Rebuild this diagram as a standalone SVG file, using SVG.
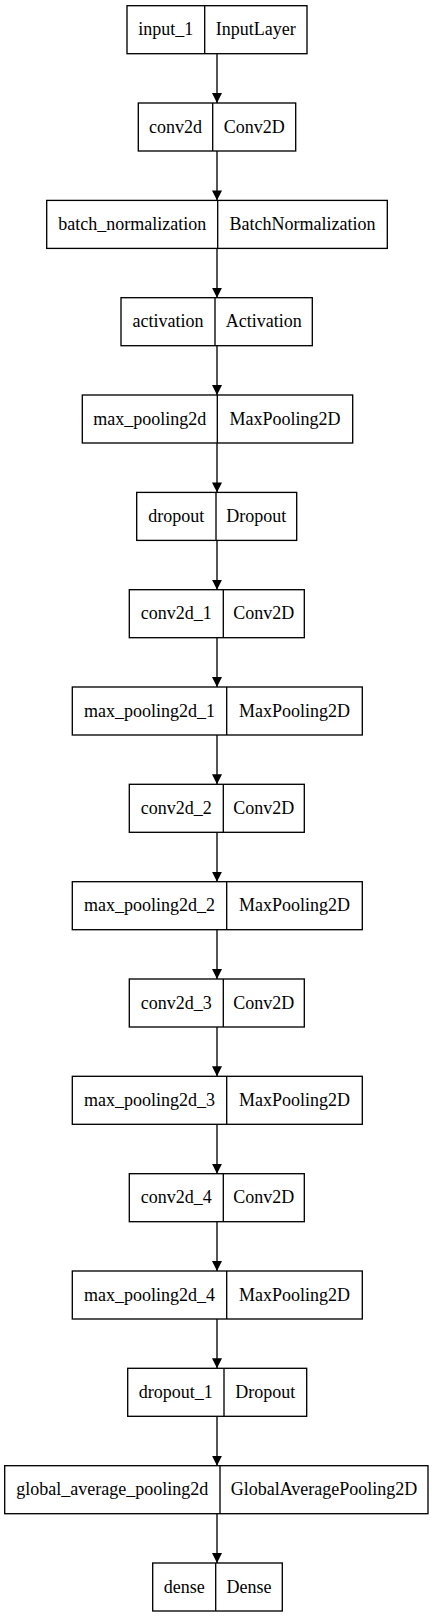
<svg xmlns="http://www.w3.org/2000/svg" width="435" height="1617" viewBox="0 0 435 1617">
<style>
.box{fill:#fff;stroke:#000;stroke-width:1.33}
.div{stroke:#000;stroke-width:1.33}
text{font-family:"Liberation Serif","Times New Roman",serif;font-size:18px;text-anchor:middle;fill:#000}
.edge{stroke:#000;stroke-width:1.33;fill:none}
</style>
<defs>
<marker id="ah" viewBox="0 0 10 10" refX="10" refY="5" markerWidth="10" markerHeight="10" markerUnits="userSpaceOnUse" orient="auto">
<path d="M0,0 L10,5 L0,10 z" fill="#000"/>
</marker>
</defs>
<rect width="435" height="1617" fill="#fff"/>
<g id="edges">
<line class="edge" x1="217" y1="53.7" x2="217" y2="103" marker-end="url(#ah)"/>
<line class="edge" x1="217" y1="151" x2="217" y2="200.4" marker-end="url(#ah)"/>
<line class="edge" x1="217" y1="248.4" x2="217" y2="297.7" marker-end="url(#ah)"/>
<line class="edge" x1="217" y1="345.7" x2="217" y2="395" marker-end="url(#ah)"/>
<line class="edge" x1="217" y1="443" x2="217" y2="492.4" marker-end="url(#ah)"/>
<line class="edge" x1="217" y1="540.4" x2="217" y2="589.7" marker-end="url(#ah)"/>
<line class="edge" x1="217" y1="637.7" x2="217" y2="687" marker-end="url(#ah)"/>
<line class="edge" x1="217" y1="735" x2="217" y2="784.3" marker-end="url(#ah)"/>
<line class="edge" x1="217" y1="832.3" x2="217" y2="881.7" marker-end="url(#ah)"/>
<line class="edge" x1="217" y1="929.7" x2="217" y2="979" marker-end="url(#ah)"/>
<line class="edge" x1="217" y1="1027" x2="217" y2="1076.3" marker-end="url(#ah)"/>
<line class="edge" x1="217" y1="1124.3" x2="217" y2="1173.7" marker-end="url(#ah)"/>
<line class="edge" x1="217" y1="1221.7" x2="217" y2="1271" marker-end="url(#ah)"/>
<line class="edge" x1="217" y1="1319" x2="217" y2="1368.3" marker-end="url(#ah)"/>
<line class="edge" x1="217" y1="1416.3" x2="217" y2="1465.7" marker-end="url(#ah)"/>
<line class="edge" x1="217" y1="1513.7" x2="217" y2="1563" marker-end="url(#ah)"/>
</g>
<g id="input_1">
<rect class="box" x="127" y="5.7" width="180" height="48"/>
<line class="div" x1="204.7" y1="5.7" x2="204.7" y2="53.7"/>
<text x="165.8" y="35.2">input_1</text>
<text x="255.8" y="35.2">InputLayer</text>
</g>
<g id="conv2d">
<rect class="box" x="138.3" y="103" width="157.4" height="48"/>
<line class="div" x1="212.7" y1="103" x2="212.7" y2="151"/>
<text x="175.5" y="132.5">conv2d</text>
<text x="254.2" y="132.5">Conv2D</text>
</g>
<g id="batch_normalization">
<rect class="box" x="46.7" y="200.4" width="340.6" height="48"/>
<line class="div" x1="217.7" y1="200.4" x2="217.7" y2="248.4"/>
<text x="132.2" y="229.9">batch_normalization</text>
<text x="302.5" y="229.9">BatchNormalization</text>
</g>
<g id="activation">
<rect class="box" x="121" y="297.7" width="191.3" height="48"/>
<line class="div" x1="215" y1="297.7" x2="215" y2="345.7"/>
<text x="168" y="327.2">activation</text>
<text x="263.7" y="327.2">Activation</text>
</g>
<g id="max_pooling2d">
<rect class="box" x="82.3" y="395" width="270.4" height="48"/>
<line class="div" x1="217.3" y1="395" x2="217.3" y2="443"/>
<text x="149.8" y="424.5">max_pooling2d</text>
<text x="285" y="424.5">MaxPooling2D</text>
</g>
<g id="dropout">
<rect class="box" x="136.7" y="492.4" width="160" height="48"/>
<line class="div" x1="216" y1="492.4" x2="216" y2="540.4"/>
<text x="176.3" y="521.9">dropout</text>
<text x="256.3" y="521.9">Dropout</text>
</g>
<g id="conv2d_1">
<rect class="box" x="129.3" y="589.7" width="175" height="48"/>
<line class="div" x1="223.3" y1="589.7" x2="223.3" y2="637.7"/>
<text x="176.3" y="619.2">conv2d_1</text>
<text x="263.8" y="619.2">Conv2D</text>
</g>
<g id="max_pooling2d_1">
<rect class="box" x="72.3" y="687" width="290" height="48"/>
<line class="div" x1="226.7" y1="687" x2="226.7" y2="735"/>
<text x="149.5" y="716.5">max_pooling2d_1</text>
<text x="294.5" y="716.5">MaxPooling2D</text>
</g>
<g id="conv2d_2">
<rect class="box" x="129.3" y="784.3" width="175" height="48"/>
<line class="div" x1="223.3" y1="784.3" x2="223.3" y2="832.3"/>
<text x="176.3" y="813.8">conv2d_2</text>
<text x="263.8" y="813.8">Conv2D</text>
</g>
<g id="max_pooling2d_2">
<rect class="box" x="72.3" y="881.7" width="290" height="48"/>
<line class="div" x1="226.7" y1="881.7" x2="226.7" y2="929.7"/>
<text x="149.5" y="911.2">max_pooling2d_2</text>
<text x="294.5" y="911.2">MaxPooling2D</text>
</g>
<g id="conv2d_3">
<rect class="box" x="129.3" y="979" width="175" height="48"/>
<line class="div" x1="223.3" y1="979" x2="223.3" y2="1027"/>
<text x="176.3" y="1008.5">conv2d_3</text>
<text x="263.8" y="1008.5">Conv2D</text>
</g>
<g id="max_pooling2d_3">
<rect class="box" x="72.3" y="1076.3" width="290" height="48"/>
<line class="div" x1="226.7" y1="1076.3" x2="226.7" y2="1124.3"/>
<text x="149.5" y="1105.8">max_pooling2d_3</text>
<text x="294.5" y="1105.8">MaxPooling2D</text>
</g>
<g id="conv2d_4">
<rect class="box" x="129.3" y="1173.7" width="175" height="48"/>
<line class="div" x1="223.3" y1="1173.7" x2="223.3" y2="1221.7"/>
<text x="176.3" y="1203.2">conv2d_4</text>
<text x="263.8" y="1203.2">Conv2D</text>
</g>
<g id="max_pooling2d_4">
<rect class="box" x="72.3" y="1271" width="290" height="48"/>
<line class="div" x1="226.7" y1="1271" x2="226.7" y2="1319"/>
<text x="149.5" y="1300.5">max_pooling2d_4</text>
<text x="294.5" y="1300.5">MaxPooling2D</text>
</g>
<g id="dropout_1">
<rect class="box" x="127.7" y="1368.3" width="179" height="48"/>
<line class="div" x1="224" y1="1368.3" x2="224" y2="1416.3"/>
<text x="175.8" y="1397.8">dropout_1</text>
<text x="265.3" y="1397.8">Dropout</text>
</g>
<g id="global_average_pooling2d">
<rect class="box" x="4.7" y="1465.7" width="423.3" height="48"/>
<line class="div" x1="220" y1="1465.7" x2="220" y2="1513.7"/>
<text x="112.3" y="1495.2">global_average_pooling2d</text>
<text x="324" y="1495.2">GlobalAveragePooling2D</text>
</g>
<g id="dense">
<rect class="box" x="152.7" y="1563" width="129.6" height="48"/>
<line class="div" x1="215.7" y1="1563" x2="215.7" y2="1611"/>
<text x="184.2" y="1592.5">dense</text>
<text x="249" y="1592.5">Dense</text>
</g>
</svg>
